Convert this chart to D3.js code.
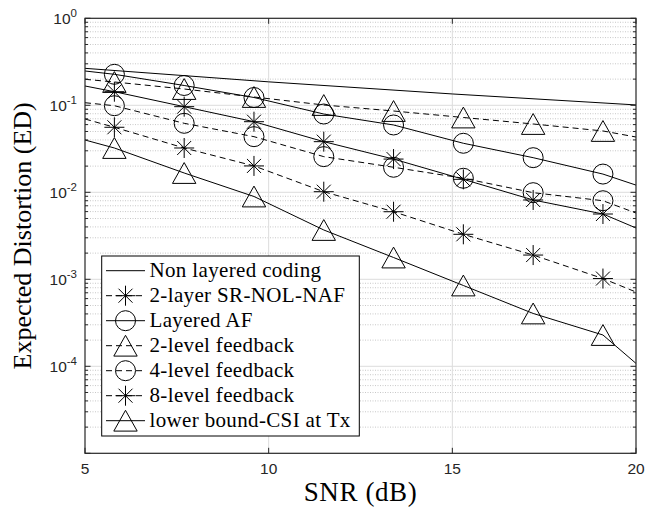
<!DOCTYPE html>
<html><head><meta charset="utf-8">
<script src="https://cdn.jsdelivr.net/npm/d3@7"></script>
<style>body{margin:0;background:#fff}</style>
</head><body>
<svg id="c" width="646" height="508"></svg>
<script>
// ---- data ----
const snrLine = [5, 5.8, 7.7, 9.6, 11.5, 13.4, 15.3, 17.2, 19.1, 20];
const snrNonLayered = [5, 10, 15, 20];
const nonLayered = [0.266, 0.186, 0.135, 0.101];
const twoLayerSRNOLNAF = [0.1667, 0.1433, 0.0964, 0.0648, 0.0382, 0.0241, 0.0141, 0.00816, 0.00563, 0.00389];
const layeredAF = [0.2479, 0.2271, 0.1689, 0.1229, 0.0794, 0.0594, 0.0366, 0.0250, 0.0162, 0.0121];
const level2 = [0.199, 0.1853, 0.1539, 0.1246, 0.1008, 0.0860, 0.0724, 0.0610, 0.0507, 0.0432];
const level4 = [0.1071, 0.0989, 0.0621, 0.0436, 0.0257, 0.0194, 0.0145, 0.0099, 0.0080, 0.00578];
const level8 = [0.0696, 0.0559, 0.0323, 0.0201, 0.01016, 0.00598, 0.00329, 0.00190, 0.00102, 0.000714];
const lowerBound = [0.0399, 0.0323, 0.01667, 0.00895, 0.00369, 0.00178, 0.000849, 0.000405, 0.000229, 0.000108];
const legendLabels = ["Non layered coding", "2-layer SR-NOL-NAF", "Layered AF", "2-level feedback", "4-level feedback", "8-level feedback", "lower bound-CSI at Tx"];
const xTicks = [5, 10, 15, 20];
const yTickExponents = [0, -1, -2, -3, -4];
const xLabel = "SNR (dB)";
const yLabel = "Expected Distortion (ED)";

// ---- series definitions ----
const series = [
  {name: legendLabels[0], x: snrNonLayered, y: nonLayered, dash: null, legDash: null, marker: null},
  {name: legendLabels[1], x: snrLine, y: twoLayerSRNOLNAF, dash: null, legDash: "6,4", marker: "ast"},
  {name: legendLabels[2], x: snrLine, y: layeredAF, dash: null, legDash: null, marker: "circle"},
  {name: legendLabels[3], x: snrLine, y: level2, dash: "6,4", legDash: "6,4", marker: "tri"},
  {name: legendLabels[4], x: snrLine, y: level4, dash: "6,4", legDash: "6,4", marker: "circle"},
  {name: legendLabels[5], x: snrLine, y: level8, dash: "6,4", legDash: "6,4", marker: "ast"},
  {name: legendLabels[6], x: snrLine, y: lowerBound, dash: null, legDash: null, marker: "tri"}
];

const L = 85, R = 636, T = 18.3, B = 453.3;
const svg = d3.select("#c");
const x = d3.scaleLinear().domain([5, 20]).range([L, R]);
const y = d3.scaleLog().domain([1e-5, 1]).range([B, T]);

svg.append("rect").attr("width", 646).attr("height", 508).attr("fill", "#fff");
svg.append("defs").append("clipPath").attr("id", "clip")
  .append("rect").attr("x", L).attr("y", T).attr("width", R - L).attr("height", B - T);

// grid
const g = svg.append("g");
const minorVals = [];
for (let e = -5; e < 0; e++) for (let m = 2; m <= 9; m++) minorVals.push(m * Math.pow(10, e));
g.selectAll(".mg").data(minorVals).enter().append("line")
  .attr("x1", L).attr("x2", R).attr("y1", d => y(d)).attr("y2", d => y(d))
  .attr("stroke", "#c8c8c8").attr("stroke-width", 1).attr("stroke-dasharray", "1,1.5");
g.selectAll(".Mg").data([1e-4, 1e-3, 1e-2, 1e-1]).enter().append("line")
  .attr("x1", L).attr("x2", R).attr("y1", d => y(d)).attr("y2", d => y(d))
  .attr("stroke", "#dcdcdc").attr("stroke-width", 1);
g.selectAll(".xg").data([10, 15]).enter().append("line")
  .attr("y1", T).attr("y2", B).attr("x1", d => x(d)).attr("x2", d => x(d))
  .attr("stroke", "#dcdcdc").attr("stroke-width", 1);

// markers
function drawMarker(sel, type, cx, cy) {
  if (type === "circle") {
    sel.append("circle").attr("cx", cx).attr("cy", cy).attr("r", 10)
      .attr("fill", "none").attr("stroke", "#000").attr("stroke-width", 1);
  } else if (type === "tri") {
    const hw = 11.7, hh = 10.4;
    sel.append("path").attr("d", `M${cx},${cy - hh}L${cx + hw},${cy + hh}L${cx - hw},${cy + hh}Z`)
      .attr("fill", "none").attr("stroke", "#000").attr("stroke-width", 1);
  } else if (type === "ast") {
    const s = 10, d = 7;
    sel.append("path").attr("d",
      `M${cx},${cy - s}L${cx},${cy + s}M${cx - s},${cy}L${cx + s},${cy}M${cx - d},${cy - d}L${cx + d},${cy + d}M${cx - d},${cy + d}L${cx + d},${cy - d}`)
      .attr("fill", "none").attr("stroke", "#000").attr("stroke-width", 1);
  }
}

const plot = svg.append("g").attr("clip-path", "url(#clip)");
const line = d3.line().x(d => x(d[0])).y(d => y(d[1]));
series.forEach(s => {
  const pts = s.x.map((v, i) => [v, s.y[i]]);
  plot.append("path").attr("d", line(pts)).attr("fill", "none")
    .attr("stroke", "#000").attr("stroke-width", 1)
    .attr("stroke-dasharray", s.dash);
});
series.forEach(s => {
  if (!s.marker) return;
  const mg = plot.append("g");
  s.x.forEach((v, i) => {
    if (i === 0 || i === s.x.length - 1) return;
    drawMarker(mg, s.marker, x(v), y(s.y[i]));
  });
});

// axes box
svg.append("rect").attr("x", L).attr("y", T).attr("width", R - L).attr("height", B - T)
  .attr("fill", "none").attr("stroke", "#262626").attr("stroke-width", 1.2);

// ticks
const tk = svg.append("g").attr("stroke", "#262626").attr("stroke-width", 1);
xTicks.forEach(v => {
  tk.append("line").attr("x1", x(v)).attr("x2", x(v)).attr("y1", B).attr("y2", B - 5.5);
  tk.append("line").attr("x1", x(v)).attr("x2", x(v)).attr("y1", T).attr("y2", T + 5.5);
});
for (let e = -5; e <= 0; e++) {
  const v = Math.pow(10, e);
  tk.append("line").attr("x1", L).attr("x2", L + 5.5).attr("y1", y(v)).attr("y2", y(v));
  tk.append("line").attr("x1", R).attr("x2", R - 5.5).attr("y1", y(v)).attr("y2", y(v));
}
minorVals.forEach(v => {
  tk.append("line").attr("x1", L).attr("x2", L + 3).attr("y1", y(v)).attr("y2", y(v));
  tk.append("line").attr("x1", R).attr("x2", R - 3).attr("y1", y(v)).attr("y2", y(v));
});

// tick labels
const tf = "'Liberation Sans', Arial, sans-serif";
xTicks.forEach(v => {
  svg.append("text").attr("x", x(v)).attr("y", B + 21).attr("text-anchor", "middle")
    .attr("font-family", tf).attr("font-size", 15.5).attr("fill", "#262626").text(v);
});
yTickExponents.forEach(e => {
  const t = svg.append("text").attr("x", 77).attr("y", y(Math.pow(10, e)) + 6)
    .attr("text-anchor", "end").attr("font-family", tf).attr("font-size", 15.5).attr("fill", "#262626");
  t.append("tspan").text("10");
  t.append("tspan").attr("dy", -7).attr("font-size", 11.5).text(String(e));
});

// axis labels
const sf = "'Liberation Serif', 'Times New Roman', serif";
svg.append("text").attr("x", (L + R) / 2).attr("y", 501).attr("text-anchor", "middle")
  .attr("font-family", sf).attr("font-size", 27).attr("letter-spacing", 0.6).attr("fill", "#000").text(xLabel);
svg.append("text").attr("transform", `translate(31,${(T + B) / 2}) rotate(-90)`)
  .attr("text-anchor", "middle").attr("font-family", sf).attr("font-size", 26).attr("fill", "#000").text(yLabel);

// legend
const lg = svg.append("g");
lg.append("rect").attr("x", 101.7).attr("y", 256).attr("width", 257.6).attr("height", 180)
  .attr("fill", "#fff").attr("stroke", "#000").attr("stroke-width", 1);
series.forEach((s, i) => {
  const cy = 270.7 + i * 25;
  lg.append("line").attr("x1", 106).attr("x2", 145).attr("y1", cy).attr("y2", cy)
    .attr("stroke", "#000").attr("stroke-width", 1).attr("stroke-dasharray", s.legDash);
  if (s.marker) drawMarker(lg, s.marker, 125.5, cy);
  lg.append("text").attr("x", 149.5).attr("y", cy + 6.5).attr("font-family", sf)
    .attr("font-size", 21).attr("letter-spacing", 0.35).attr("fill", "#000").text(s.name);
});
</script>
</body></html>
